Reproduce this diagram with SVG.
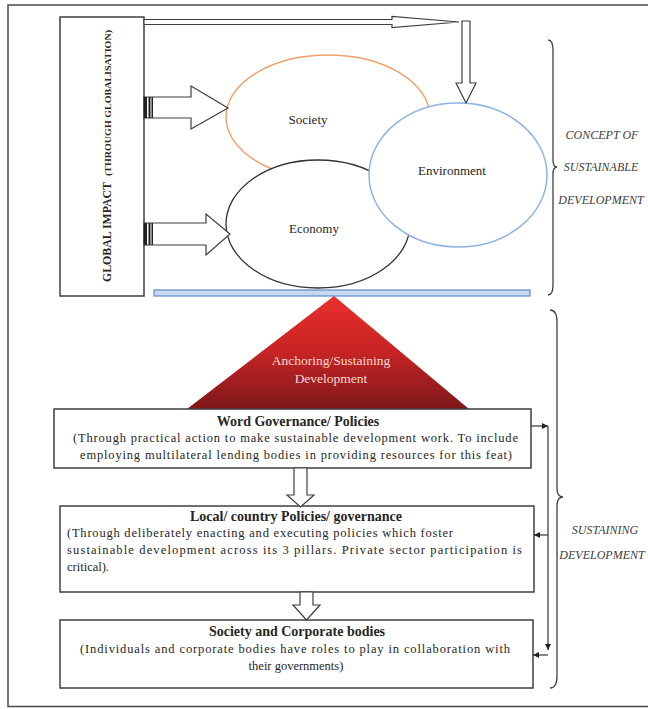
<svg xmlns="http://www.w3.org/2000/svg" width="648" height="709" viewBox="0 0 648 709">
<defs>
<style>
.box{fill:#fff;stroke:#3f3f3f;stroke-width:1.5}
.blk{fill:#fff;stroke:#3f3f3f;stroke-width:1.2}
.t{font-family:"Liberation Serif",serif;fill:#262626}
.title{font-size:14px;font-weight:bold;text-anchor:middle}
.body{font-size:12.5px}
.mid{text-anchor:middle}
.side{font-family:"Liberation Serif",serif;font-style:italic;font-size:12px;fill:#404040;text-anchor:middle}
.brace{fill:none;stroke:#404040;stroke-width:1.3}
.conn{fill:none;stroke:#333;stroke-width:1.2}
</style>
<linearGradient id="red" x1="0" y1="0" x2="0" y2="1">
<stop offset="0" stop-color="#EA2F2C"/>
<stop offset="0.5" stop-color="#C62424"/>
<stop offset="1" stop-color="#7E171A"/>
</linearGradient>
<marker id="ah" viewBox="0 0 10 10" refX="10" refY="5" markerWidth="6" markerHeight="6" markerUnits="userSpaceOnUse" orient="auto">
<path d="M0,0 L10,5 L0,10 z" fill="#222"/>
</marker>
</defs>
<rect x="8" y="5" width="645" height="701.5" fill="#fff" stroke="#4a4a4a" stroke-width="1.5"/>

<g id="node-global">
<rect class="box" x="60" y="17" width="84" height="279"/>
<text class="t" transform="translate(111,282) rotate(-90)" font-weight="bold"><tspan font-size="13" textLength="100" lengthAdjust="spacingAndGlyphs">GLOBAL IMPACT</tspan><tspan dx="6" font-size="8.5" textLength="146" lengthAdjust="spacingAndGlyphs">(THROUGH GLOBALISATION)</tspan></text>
</g>

<g id="node-society">
<ellipse cx="328" cy="117" rx="102" ry="62" fill="#fff" stroke="#EFA06A" stroke-width="1.4"/>
<text class="t mid" x="308" y="124" font-size="13">Society</text>
</g>
<g id="node-economy">
<ellipse cx="318" cy="224" rx="92" ry="64" fill="#fff" stroke="#333" stroke-width="1.3"/>
<text class="t mid" x="314" y="233" font-size="13">Economy</text>
</g>
<g id="node-environment">
<ellipse cx="458" cy="175" rx="89" ry="72" fill="#fff" stroke="#8DB3E2" stroke-width="1.5"/>
<text class="t mid" x="452" y="175" font-size="13">Environment</text>
</g>

<g id="node-base">
<rect x="154" y="290" width="376" height="6" fill="#C6D9F1" stroke="#5A8AC6" stroke-width="1.2"/>
</g>

<g id="node-anchor">
<polygon points="334,296 469,409 187,409" fill="url(#red)"/>
<text class="t mid" x="331" y="365" font-size="13.5" fill="#F8D8D4" style="fill:#F8D8D4">Anchoring/Sustaining</text>
<text class="t mid" x="331" y="383" font-size="13.5" style="fill:#F8D8D4">Development</text>
</g>

<g id="node-concept-brace">
<path class="brace" d="M548,40 Q553,40 553,50 L553,160 Q553,167 557,167 Q553,167 553,174 L553,285 Q553,295 548,295"/>
<text class="side" x="602" y="139">CONCEPT OF</text>
<text class="side" x="601" y="171">SUSTAINABLE</text>
<text class="side" x="601" y="204">DEVELOPMENT</text>
</g>

<g id="node-sustain-brace">
<path class="brace" d="M550,310 Q557,310 557,322 L557,488 Q557,497 563,497 Q557,497 557,506 L557,676 Q557,688 550,688"/>
<text class="side" x="605" y="534">SUSTAINING</text>
<text class="side" x="602" y="559">DEVELOPMENT</text>
</g>

<g id="node-box1">
<rect class="box" x="54" y="409" width="477" height="59"/>
<text class="t title" x="298" y="426">Word Governance/ Policies</text>
<text class="t body mid" x="295.5" y="442" textLength="445" lengthAdjust="spacing">(Through practical action to make sustainable development work. To include</text>
<text class="t body mid" x="296" y="459" textLength="432" lengthAdjust="spacing">employing multilateral  lending  bodies in providing resources for this feat)</text>
</g>

<g id="node-box2">
<rect class="box" x="60" y="506" width="474" height="86"/>
<text class="t title" x="296" y="521">Local/ country Policies/ governance</text>
<text class="t body" x="67" y="537" textLength="386" lengthAdjust="spacing">(Through deliberately  enacting and executing policies which foster</text>
<text class="t body" x="67" y="554" textLength="455" lengthAdjust="spacing">sustainable development  across its 3 pillars. Private sector participation is</text>
<text class="t body" x="67" y="571">critical).</text>
</g>

<g id="node-box3">
<rect class="box" x="60" y="620" width="473" height="68"/>
<text class="t title" x="297" y="636">Society and Corporate bodies</text>
<text class="t body mid" x="295" y="653" textLength="430" lengthAdjust="spacing">(Individuals and corporate bodies have roles to play in collaboration with</text>
<text class="t body mid" x="296" y="670">their governments)</text>
</g>

<g id="connectors">
<polygon class="blk" points="144,19.5 392,19.5 392,16.5 459,22 392,27.5 392,24.5 144,24.5"/>
<polygon class="blk" points="462,21 470,21 470,83 476,83 466,103 456,83 462,83"/>
<polygon class="blk" points="144,97 191,97 191,86 228,108 191,129 191,118 144,118"/>
<rect x="144" y="97" width="3" height="21" fill="#222"/>
<rect x="148.5" y="97" width="2" height="21" fill="#222"/>
<rect x="151.5" y="97" width="1.5" height="21" fill="#222"/>
<polygon class="blk" points="144,223 206,223 206,214 230,234 206,255 206,245 144,245"/>
<rect x="144" y="223" width="3" height="22" fill="#222"/>
<rect x="148.5" y="223" width="2" height="22" fill="#222"/>
<rect x="151.5" y="223" width="1.5" height="22" fill="#222"/>
<polygon class="blk" points="294,468 307,468 307,495 314,495 300.5,507 287,495 294,495"/>
<polygon class="blk" points="300,592 313,592 313,605 320,605 306.5,620 293,605 300,605"/>
<path class="conn" d="M531,426 L548,426" marker-end="url(#ah)"/>
<path class="conn" d="M548,426 L548,650" marker-end="url(#ah)"/>
<path class="conn" d="M548,535 L534,535" marker-end="url(#ah)"/>
<path class="conn" d="M548,655 L533,655" marker-end="url(#ah)"/>
</g>
</svg>
